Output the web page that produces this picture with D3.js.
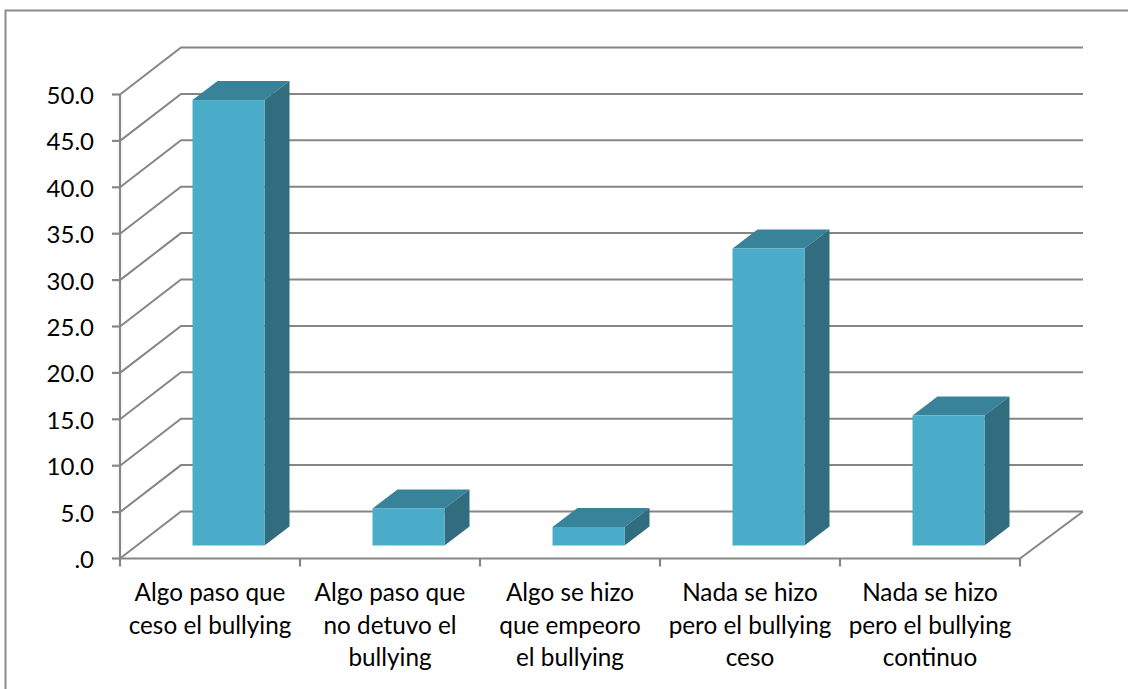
<!DOCTYPE html>
<html><head><meta charset="utf-8">
<script src="https://cdn.jsdelivr.net/npm/d3@7"></script>
<style>html,body{margin:0;padding:0;background:#fff}svg{display:block}</style>
</head><body><div id="c"></div>
<script>
const categories = [
  ["Algo paso que","ceso el bullying"],
  ["Algo paso que","no detuvo el","bullying"],
  ["Algo se hizo","que empeoro","el bullying"],
  ["Nada se hizo","pero el bullying","ceso"],
  ["Nada se hizo","pero el bullying","continuo"]
];
const values = [48, 4, 2, 32, 14];
const yTicks = [0,5,10,15,20,25,30,35,40,45,50];
const W=1128,H=689;
const svg=d3.select("#c").append("svg").attr("width",W).attr("height",H);
const x=d3.scaleBand().domain(d3.range(categories.length)).range([120,1020]);
const y=d3.scaleLinear().domain([0,50]).range([558.5,94.5]);
const dx=61,dy=-47;          // wall depth
const bdx=25,bdy=-19;        // bar depth
const barShift=72.5,barW=72,barLift=13;
const axisCol="#868686";
const font="Lato, Carlito, sans-serif";

svg.append("path").attr("d",`M5.5,${H} V10.5 H${W}`).attr("fill","none").attr("stroke","#8c8c8c").attr("stroke-width",2);

const grid=svg.append("g").attr("fill","none").attr("stroke",axisCol).attr("stroke-width",2);
yTicks.forEach(t=>{
  const yy=y(t);
  grid.append("path").attr("d",`M120,${yy} L${120+dx},${yy+dy} H${1020+dx+2}`);
});
grid.append("path").attr("d",`M${1020},${y(0)} L${1020+dx+2},${y(0)+dy}`);
const ax=svg.append("g").attr("fill","none").attr("stroke",axisCol).attr("stroke-width",2.2);
ax.append("path").attr("d",`M120,${y(50)} V${y(0)} H1020`);
yTicks.forEach(t=>ax.append("path").attr("d",`M112,${y(t)} H120`));
d3.range(categories.length+1).forEach(i=>{
  const px=i<categories.length?x(i):x.range()[1];
  ax.append("path").attr("d",`M${px},${y(0)} V${y(0)+8}`);
});

const bars=svg.append("g");
values.forEach((v,i)=>{
  const l=x(i)+barShift, r=l+barW;
  const b=y(0)-barLift, t=b-(y(0)-y(v));
  bars.append("path").attr("fill","#38839a").attr("d",`M${l},${t} L${l+bdx},${t+bdy} H${r+bdx} L${r},${t} Z`);
  bars.append("path").attr("fill","#316d7e").attr("d",`M${r},${t} L${r+bdx},${t+bdy} V${b+bdy} L${r},${b} Z`);
  bars.append("rect").attr("x",l).attr("y",t).attr("width",barW).attr("height",b-t).attr("fill","#4aacc8");
});

const yl=svg.append("g").attr("font-family",font).attr("font-size",24).attr("fill","#000").attr("text-anchor","end");
yTicks.forEach(t=>yl.append("text").attr("x",94).attr("y",y(t)+9.5).text(t===0?".0":d3.format(".1f")(t)));

const cl=svg.append("g").attr("font-family",font).attr("font-size",24.3).attr("fill","#000").attr("text-anchor","middle");
categories.forEach((lines,i)=>{
  lines.forEach((s,j)=>cl.append("text").attr("x",x(i)+x.bandwidth()/2).attr("y",601+j*32.5).text(s));
});
</script></body></html>
